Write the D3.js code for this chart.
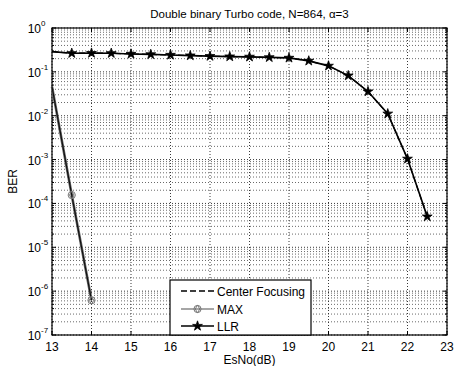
<!DOCTYPE html>
<html>
<head>
<meta charset="utf-8">
<script src="https://cdn.jsdelivr.net/npm/d3@7"></script>
<style>
  html, body { margin: 0; padding: 0; background: #fff; }
  svg { display: block; font-family: 'Liberation Sans', Arial, sans-serif; }
</style>
</head>
<body>
<svg id="chart" width="458" height="366"></svg>
<script>
// data
const llrX = [13, 13.5, 14, 14.5, 15, 15.5, 16, 16.5, 17, 17.5, 18, 18.5, 19, 19.5, 20, 20.5, 21, 21.5, 22, 22.5];
const llrBer = [0.289, 0.266, 0.268, 0.266, 0.256, 0.25, 0.243, 0.235, 0.228, 0.223, 0.22, 0.214, 0.208, 0.178, 0.137, 0.082, 0.0356, 0.0111, 0.00104, 0.00005];
const maxX = [13, 13.5, 14];
const maxBer = [0.046, 0.000155, 0.00000062];
// center focusing curve is drawn under the LLR curve
const cfX = llrX;
const cfBer = llrBer;
const xTicks = [13, 14, 15, 16, 17, 18, 19, 20, 21, 22, 23];
const yExps = [0, -1, -2, -3, -4, -5, -6, -7];
const legendLabels = ['Center Focusing', 'MAX', 'LLR'];

const svg = d3.select('#chart');
const L = 52, R = 447, T = 28, B = 335;

const x = d3.scaleLinear().domain([13, 23]).range([L, R]);
const y = d3.scaleLog().domain([1e-7, 1]).range([B, T]);

// grid: minor y lines
const minor = [];
yExps.slice(1).forEach(e => { for (let k = 2; k <= 9; k++) minor.push(k * Math.pow(10, e)); });
const grid = svg.append('g');
grid.selectAll('.ymin').data(minor).enter().append('line')
  .attr('x1', L).attr('x2', R).attr('y1', d => y(d)).attr('y2', d => y(d))
  .attr('stroke', '#444').attr('stroke-width', 0.8).attr('stroke-dasharray', '1,2');
grid.selectAll('.ymaj').data(yExps).enter().append('line')
  .attr('x1', L).attr('x2', R).attr('y1', d => y(Math.pow(10, d))).attr('y2', d => y(Math.pow(10, d)))
  .attr('stroke', '#222').attr('stroke-width', 0.9).attr('stroke-dasharray', '1,2');
grid.selectAll('.xmaj').data(xTicks).enter().append('line')
  .attr('x1', d => x(d)).attr('x2', d => x(d)).attr('y1', T).attr('y2', B)
  .attr('stroke', '#222').attr('stroke-width', 0.9).attr('stroke-dasharray', '1,2');

// axis box + inside ticks
svg.append('rect').attr('x', L).attr('y', T).attr('width', R - L).attr('height', B - T)
  .attr('fill', 'none').attr('stroke', '#000').attr('stroke-width', 1.2);
const ticks = svg.append('g').attr('stroke', '#000').attr('stroke-width', 1);
xTicks.forEach(t => {
  ticks.append('line').attr('x1', x(t)).attr('x2', x(t)).attr('y1', B).attr('y2', B - 4);
  ticks.append('line').attr('x1', x(t)).attr('x2', x(t)).attr('y1', T).attr('y2', T + 4);
});
yExps.forEach(e => {
  const yy = y(Math.pow(10, e));
  ticks.append('line').attr('x1', L).attr('x2', L + 4).attr('y1', yy).attr('y2', yy);
  ticks.append('line').attr('x1', R).attr('x2', R - 4).attr('y1', yy).attr('y2', yy);
});
minor.forEach(v => {
  ticks.append('line').attr('x1', L).attr('x2', L + 2).attr('y1', y(v)).attr('y2', y(v));
  ticks.append('line').attr('x1', R).attr('x2', R - 2).attr('y1', y(v)).attr('y2', y(v));
});

// tick labels
svg.selectAll('.xl').data(xTicks).enter().append('text')
  .attr('x', d => x(d)).attr('y', 351).attr('text-anchor', 'middle')
  .attr('font-size', 12).attr('fill', '#000').text(d => d);
yExps.forEach(e => {
  svg.append('text').attr('x', 41).attr('y', y(Math.pow(10, e)) + 5)
    .attr('text-anchor', 'end').attr('font-size', 12).attr('fill', '#000').text('10');
  svg.append('text').attr('x', 41).attr('y', y(Math.pow(10, e)) - 2)
    .attr('font-size', 8).attr('fill', '#000').text(e === 0 ? '0' : '-' + (-e));
});

// labels
svg.append('text').attr('x', (L + R) / 2).attr('y', 18).attr('text-anchor', 'middle')
  .attr('font-size', 11.5).attr('fill', '#000').text('Double binary Turbo code, N=864, \u03b1=3');
svg.append('text').attr('x', (L + R) / 2).attr('y', 364).attr('text-anchor', 'middle')
  .attr('font-size', 12).attr('fill', '#000').text('EsNo(dB)');
svg.append('text').attr('transform', `translate(17,${(T + B) / 2}) rotate(-90)`)
  .attr('text-anchor', 'middle').attr('font-size', 12).attr('fill', '#000').text('BER');

// curves
const line = d3.line().x(d => x(d[0])).y(d => y(d[1]));
const maxPts = maxX.map((v, i) => [v, maxBer[i]]);
const llrPts = llrX.map((v, i) => [v, llrBer[i]]);
const cfPts = cfX.map((v, i) => [v, cfBer[i]]);

const plot = svg.append('g');
plot.append('path').datum(maxPts).attr('d', line).attr('fill', 'none')
  .attr('stroke', '#666').attr('stroke-width', 2.6);
plot.append('path').datum(maxPts).attr('d', line).attr('fill', 'none')
  .attr('stroke', '#111').attr('stroke-width', 1.2);
plot.append('path').datum(llrPts).attr('d', line).attr('fill', 'none')
  .attr('stroke', '#000').attr('stroke-width', 1.6);
plot.append('path').datum(cfPts).attr('d', line).attr('fill', 'none')
  .attr('stroke', '#000').attr('stroke-width', 1.2).attr('stroke-dasharray', '6,3');

const star = d3.symbol().type(d3.symbolStar).size(30);
const diamond = d3.symbol().type(d3.symbolDiamond).size(18);

function maxMarker(g, cx, cy) {
  g.append('circle').attr('cx', cx).attr('cy', cy).attr('r', 3.6)
    .attr('fill', 'none').attr('stroke', '#777').attr('stroke-width', 1);
  g.append('path').attr('d', diamond).attr('transform', `translate(${cx},${cy})`)
    .attr('fill', 'none').attr('stroke', '#777').attr('stroke-width', 1);
}
function llrMarker(g, cx, cy) {
  g.append('path').attr('d', star).attr('transform', `translate(${cx},${cy})`)
    .attr('fill', '#000').attr('stroke', '#000').attr('stroke-width', 0.8);
}
maxPts.slice(1).forEach(p => maxMarker(plot, x(p[0]), y(p[1])));
llrPts.slice(1).forEach(p => llrMarker(plot, x(p[0]), y(p[1])));

// legend
const lg = svg.append('g');
lg.append('rect').attr('x', 170).attr('y', 280).attr('width', 141).attr('height', B - 280)
  .attr('fill', '#fff').attr('stroke', '#000').attr('stroke-width', 1.2);
const ly = [291, 309, 326];
lg.append('line').attr('x1', 181).attr('x2', 214).attr('y1', ly[0]).attr('y2', ly[0])
  .attr('stroke', '#000').attr('stroke-width', 1.4).attr('stroke-dasharray', '6,3');
lg.append('line').attr('x1', 181).attr('x2', 214).attr('y1', ly[1]).attr('y2', ly[1])
  .attr('stroke', '#888').attr('stroke-width', 1.5);
maxMarker(lg, 197.5, ly[1]);
lg.append('line').attr('x1', 181).attr('x2', 214).attr('y1', ly[2]).attr('y2', ly[2])
  .attr('stroke', '#000').attr('stroke-width', 1.4);
llrMarker(lg, 197.5, ly[2]);
legendLabels.forEach((t, i) => {
  lg.append('text').attr('x', 217).attr('y', ly[i] + 4.5).attr('font-size', 12)
    .attr('fill', '#000').text(t);
});
</script>
</body>
</html>
